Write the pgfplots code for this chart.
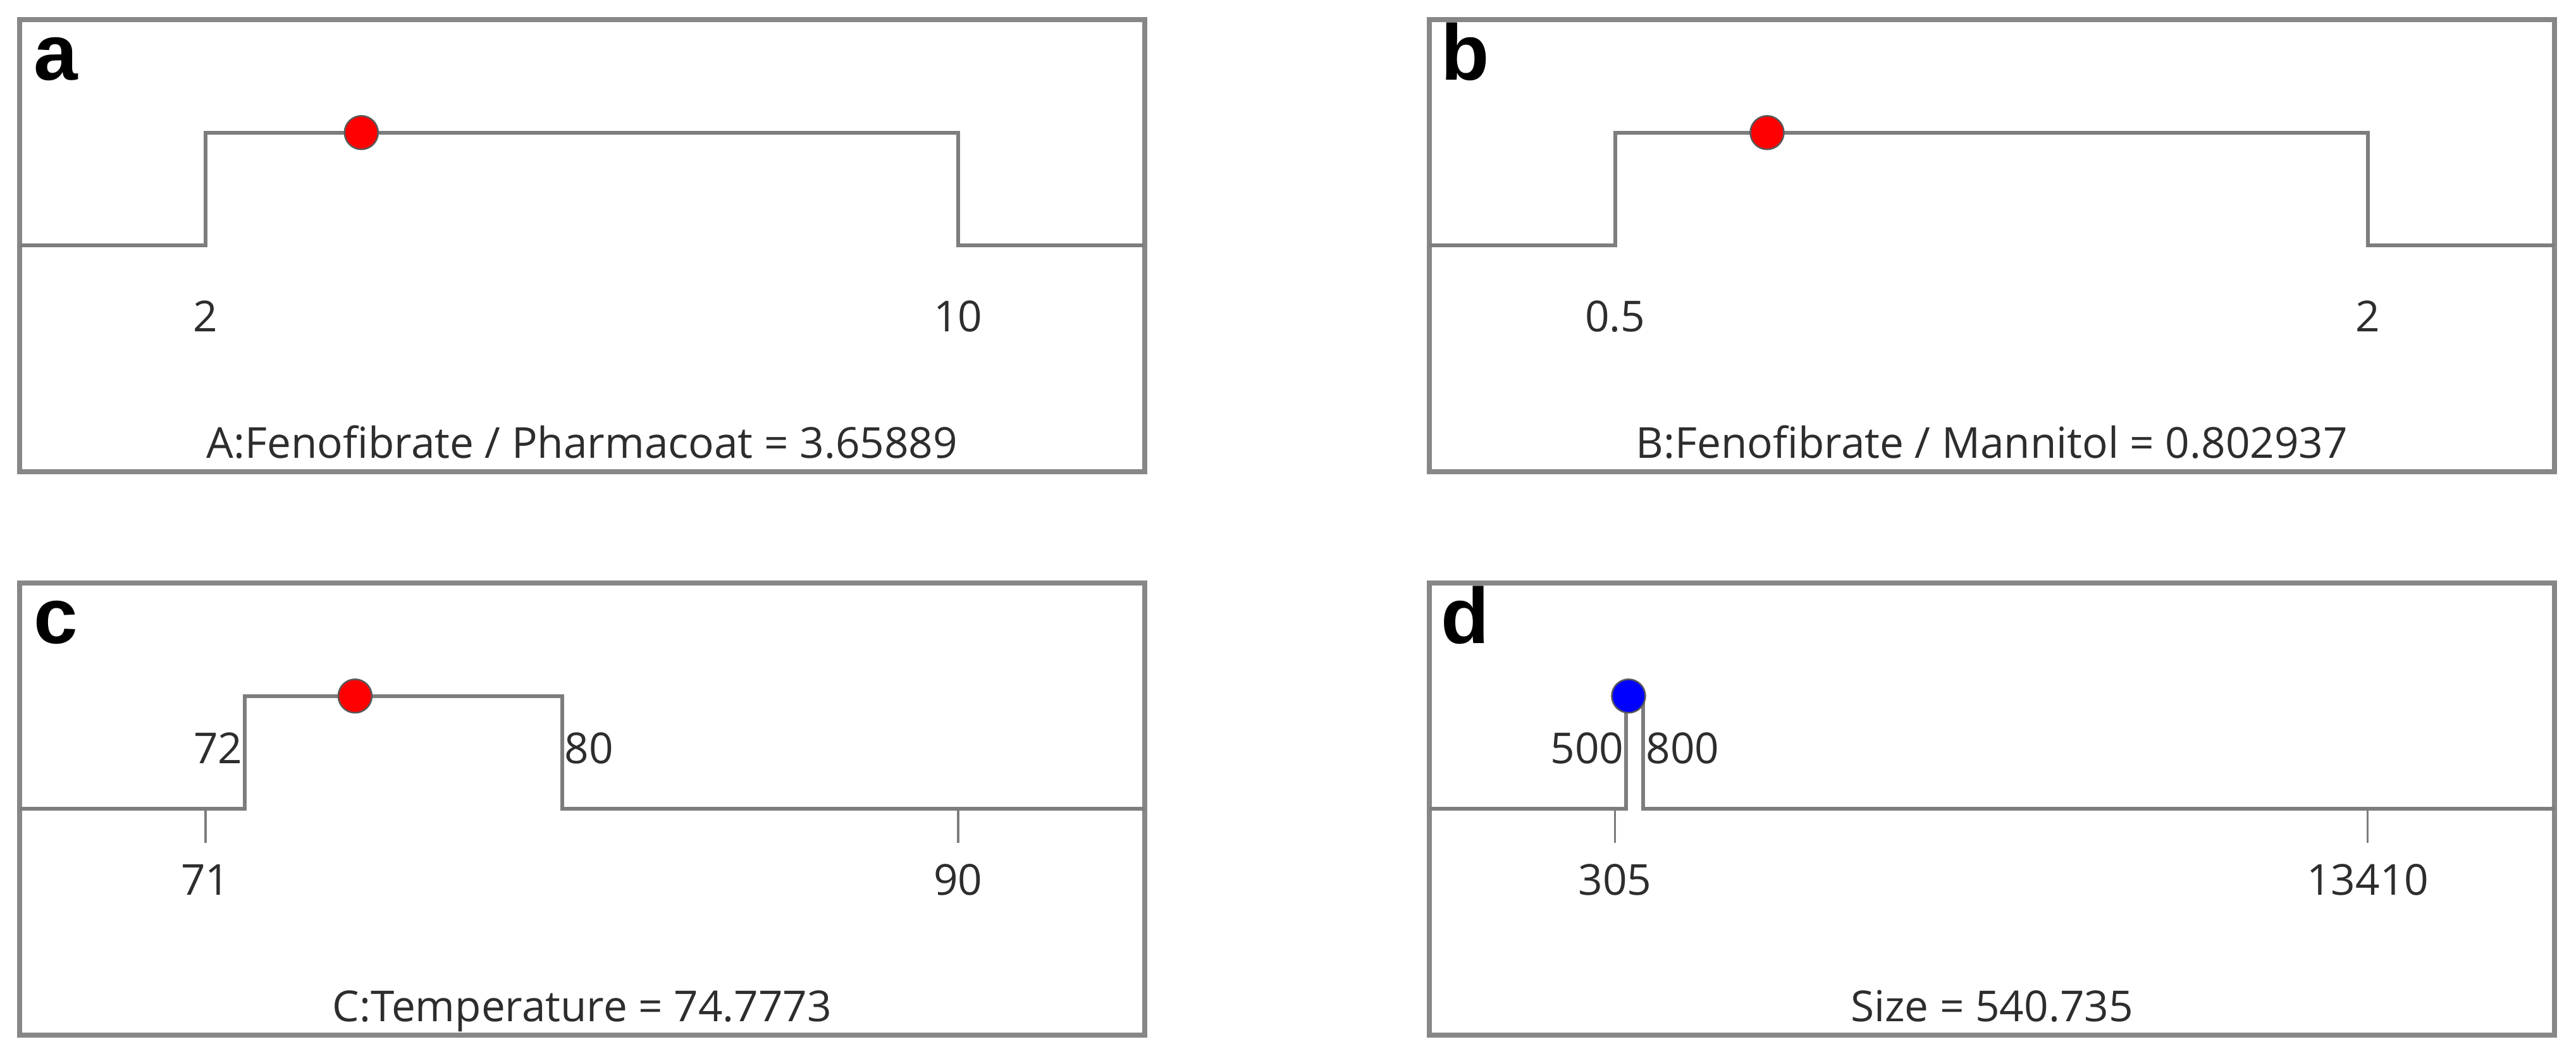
\documentclass[border=0pt]{standalone}
\usepackage{pgfplots}
\pgfplotsset{compat=1.18}
\usepackage{fontspec}
\setmainfont{Open Sans}
\newfontfamily\letterfont{Liberation Sans}
\definecolor{framegray}{RGB}{135,135,135}
\definecolor{linegray}{RGB}{125,125,125}
\definecolor{txtgray}{RGB}{45,45,45}
\tikzset{
  lab/.style={font=\fontsize{13.5}{16}\selectfont, text=txtgray, inner sep=0pt},
  panlab/.style={font=\letterfont\bfseries\fontsize{25}{30}\selectfont, text=black, inner sep=0pt, anchor=base west}
}
\pgfplotsset{
  panel/.style={scale only axis, width=355.8pt, height=143pt, ymin=0, ymax=1,
    xtick=\empty, ytick=\empty, clip=false, anchor=south west,
    axis line style={draw=framegray, line width=1.5pt}},
  stepline/.style={draw=linegray, line width=1.2pt, no markers, line join=miter},
  tickline/.style={draw=linegray, line width=0.7pt, no markers},
  dot/.style={only marks, mark=*, mark size=5.3pt, mark options={draw=black!65, line width=0.5pt, fill=#1}}
}
\begin{document}
\begin{tikzpicture}
\useasboundingbox (0,0) rectangle (814.6pt,334pt);
% ---------- a ----------
\begin{axis}[panel, at={(6.2pt,184.8pt)}, xmin=0.027, xmax=11.985]
\addplot[stepline] coordinates {(0.027,0.5) (2,0.5) (2,0.75) (10,0.75) (10,0.5) (11.985,0.5)};
\addplot[dot=red] coordinates {(3.65889,0.75)};
\node[lab, anchor=base] at (axis cs:2,0.31) {2};
\node[lab, anchor=base] at (axis cs:10,0.31) {10};
\node[panlab] at (rel axis cs:0.012,0.867) {a};
\node[lab, anchor=base] at (rel axis cs:0.5,0.03) {A:Fenofibrate / Pharmacoat = 3.65889};
\end{axis}
% ---------- b ----------
\begin{axis}[panel, at={(452pt,184.8pt)}, xmin=0.130, xmax=2.372]
\addplot[stepline] coordinates {(0.130,0.5) (0.5,0.5) (0.5,0.75) (2,0.75) (2,0.5) (2.372,0.5)};
\addplot[dot=red] coordinates {(0.802937,0.75)};
\node[lab, anchor=base] at (axis cs:0.5,0.31) {0.5};
\node[lab, anchor=base] at (axis cs:2,0.31) {2};
\node[panlab] at (rel axis cs:0.010,0.867) {b};
\node[lab, anchor=base] at (rel axis cs:0.5,0.03) {B:Fenofibrate / Mannitol = 0.802937};
\end{axis}
% ---------- c ----------
\begin{axis}[panel, at={(6.2pt,6.6pt)}, xmin=66.31, xmax=94.71]
\addplot[stepline] coordinates {(66.31,0.5) (72,0.5) (72,0.75) (80,0.75) (80,0.5) (94.71,0.5)};
\addplot[tickline] coordinates {(71,0.5) (71,0.425)};
\addplot[tickline] coordinates {(90,0.5) (90,0.425)};
\addplot[dot=red] coordinates {(74.7773,0.75)};
\node[lab, anchor=base] at (axis cs:71,0.31) {71};
\node[lab, anchor=base] at (axis cs:90,0.31) {90};
\node[lab, anchor=base east, xshift=-0.6pt] at (axis cs:72,0.6) {72};
\node[lab, anchor=base west, xshift=0.6pt] at (axis cs:80,0.6) {80};
\node[panlab] at (rel axis cs:0.012,0.867) {c};
\node[lab, anchor=base] at (rel axis cs:0.5,0.03) {C:Temperature = 74.7773};
\end{axis}
% ---------- d ----------
\begin{axis}[panel, at={(452pt,6.6pt)}, xmin=-2927, xmax=16662]
\addplot[stepline] coordinates {(-2927,0.5) (500,0.5) (500,0.75) (800,0.75) (800,0.5) (16662,0.5)};
\addplot[tickline] coordinates {(305,0.5) (305,0.425)};
\addplot[tickline] coordinates {(13410,0.5) (13410,0.425)};
\addplot[dot=blue] coordinates {(540.735,0.75)};
\node[lab, anchor=base] at (axis cs:305,0.31) {305};
\node[lab, anchor=base] at (axis cs:13410,0.31) {13410};
\node[lab, anchor=base east, xshift=-0.6pt] at (axis cs:500,0.6) {500};
\node[lab, anchor=base west, xshift=0.6pt] at (axis cs:800,0.6) {800};
\node[panlab] at (rel axis cs:0.010,0.867) {d};
\node[lab, anchor=base] at (rel axis cs:0.5,0.03) {Size = 540.735};
\end{axis}
\end{tikzpicture}
\end{document}
